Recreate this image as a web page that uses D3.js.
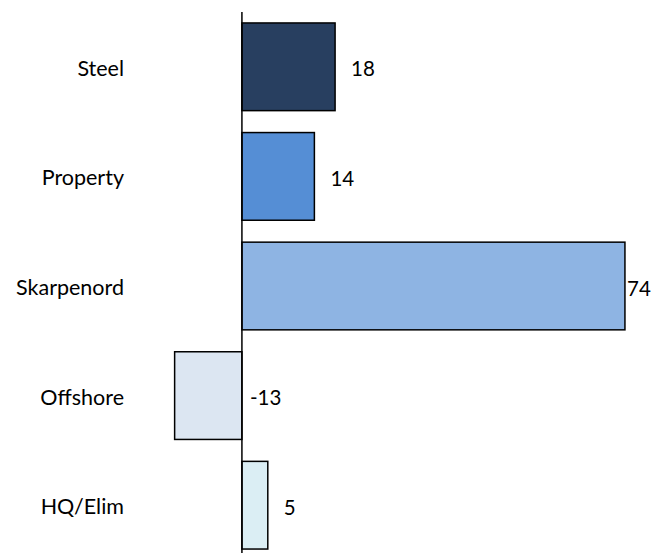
<!DOCTYPE html>
<html>
<head>
<meta charset="utf-8">
<script src="https://cdn.jsdelivr.net/npm/d3@7"></script>
<style>
  html, body { margin: 0; padding: 0; background: #fff; }
  svg { display: block; }
  text { font-family: Lato, "Open Sans", sans-serif; fill: #000; }
</style>
</head>
<body>
<svg id="chart" width="654" height="553"></svg>
<script>
// Contribution by segment
const categories = ["Steel", "Property", "Skarpenord", "Offshore", "HQ/Elim"];
const values = [18, 14, 74, -13, 5];
const colors = ["#283F60", "#558ED5", "#8EB4E3", "#DCE6F2", "#DBEEF4"];

const W = 654, H = 553;
const svg = d3.select("#chart");

const x = d3.scaleLinear().domain([-45, 80]).range([9, 656]);
const y = d3.scaleBand().domain(categories).range([12, 560])
  .paddingInner(0.2).paddingOuter(0.1);

// bars
svg.append("g").selectAll("rect")
  .data(categories)
  .join("rect")
  .attr("x", (d, i) => Math.min(x(0), x(values[i])))
  .attr("y", d => y(d))
  .attr("width", (d, i) => Math.abs(x(values[i]) - x(0)))
  .attr("height", y.bandwidth())
  .attr("fill", (d, i) => colors[i])
  .attr("stroke", "#000")
  .attr("stroke-width", 1.5);

// zero axis
svg.append("line")
  .attr("x1", x(0)).attr("x2", x(0))
  .attr("y1", 12).attr("y2", H)
  .attr("stroke", "#000").attr("stroke-width", 1.5);

// category labels
svg.append("g").selectAll("text")
  .data(categories)
  .join("text")
  .attr("x", 124)
  .attr("y", d => y(d) + y.bandwidth() / 2 + 1)
  .attr("text-anchor", "end")
  .attr("dominant-baseline", "central")
  .attr("font-size", 21.5)
  .text(d => d);

// value labels, placed past the bar end (or past the axis for negatives)
svg.append("g").selectAll("text")
  .data(categories)
  .join("text")
  .attr("x", (d, i) => Math.min(x(Math.max(values[i], 0)) + (values[i] < 0 ? 8 : 16), W - 27))
  .attr("y", d => y(d) + y.bandwidth() / 2 + 1.5)
  .attr("text-anchor", "start")
  .attr("dominant-baseline", "central")
  .attr("font-size", 20.5)
  .text((d, i) => values[i]);
</script>
</body>
</html>
